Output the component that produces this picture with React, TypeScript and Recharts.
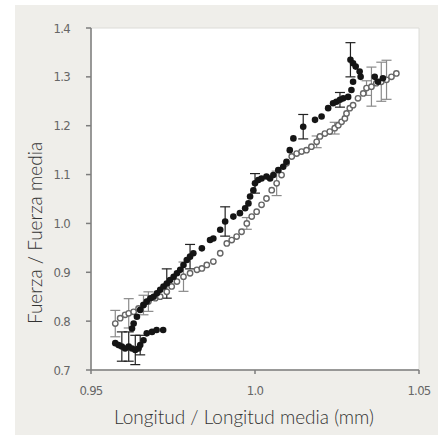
import React from "react";
import {
  ErrorBar,
  Label,
  ReferenceArea,
  Scatter,
  ScatterChart,
  XAxis,
  YAxis,
} from "recharts";

// [longitud, fuerza, error]  (error 0 = sin barra)
const filledPoints: [number, number, number][] = [
  [0.9574, 0.755, 0], [0.9584, 0.751, 0], [0.9594, 0.748, 0.03], [0.9604, 0.744, 0],
  [0.9615, 0.748, 0.03], [0.9625, 0.744, 0], [0.9635, 0.741, 0.03], [0.9645, 0.744, 0],
  [0.965, 0.751, 0.02], [0.966, 0.761, 0], [0.967, 0.775, 0], [0.9686, 0.778, 0],
  [0.97, 0.782, 0], [0.972, 0.782, 0],
  [0.9625, 0.785, 0], [0.963, 0.795, 0], [0.964, 0.809, 0], [0.965, 0.823, 0],
  [0.966, 0.833, 0], [0.967, 0.84, 0], [0.9681, 0.847, 0], [0.9691, 0.85, 0],
  [0.9701, 0.857, 0], [0.9711, 0.864, 0], [0.9721, 0.871, 0], [0.9731, 0.877, 0.03],
  [0.9741, 0.884, 0], [0.9752, 0.891, 0], [0.9762, 0.898, 0], [0.9772, 0.905, 0],
  [0.9782, 0.915, 0], [0.9792, 0.925, 0], [0.9802, 0.932, 0.025], [0.9812, 0.939, 0],
  [0.9838, 0.949, 0], [0.9863, 0.966, 0], [0.9873, 0.969, 0], [0.9894, 0.987, 0],
  [0.9909, 1.004, 0.03], [0.9934, 1.014, 0], [0.9954, 1.021, 0], [0.997, 1.031, 0],
  [0.998, 1.041, 0], [0.9985, 1.055, 0], [0.9995, 1.068, 0], [1.0, 1.082, 0.02],
  [1.001, 1.089, 0], [1.002, 1.092, 0], [1.0035, 1.096, 0], [1.0046, 1.092, 0],
  [1.0056, 1.099, 0], [1.0071, 1.109, 0], [1.0086, 1.116, 0], [1.0096, 1.126, 0],
  [1.0106, 1.15, 0], [1.0117, 1.174, 0], [1.0147, 1.198, 0.025], [1.0183, 1.212, 0],
  [1.0203, 1.219, 0], [1.0223, 1.236, 0], [1.0238, 1.246, 0], [1.0248, 1.249, 0],
  [1.0259, 1.253, 0.015], [1.0269, 1.256, 0], [1.0284, 1.259, 0], [1.0294, 1.273, 0],
  [1.0299, 1.29, 0], [1.0291, 1.335, 0.035], [1.0299, 1.328, 0], [1.0307, 1.321, 0],
  [1.0319, 1.311, 0], [1.0322, 1.3, 0], [1.0365, 1.3, 0], [1.0375, 1.29, 0],
  [1.039, 1.297, 0],
];

const openPoints: [number, number, number][] = [
  [0.9574, 0.795, 0.027], [0.9589, 0.806, 0], [0.9604, 0.813, 0], [0.9615, 0.816, 0.03],
  [0.963, 0.819, 0], [0.9645, 0.826, 0], [0.966, 0.833, 0.02], [0.9675, 0.84, 0.02],
  [0.9696, 0.847, 0], [0.9711, 0.85, 0], [0.9731, 0.86, 0], [0.9746, 0.871, 0],
  [0.9762, 0.881, 0], [0.9782, 0.891, 0.03], [0.9802, 0.898, 0], [0.9823, 0.905, 0],
  [0.9838, 0.908, 0], [0.9853, 0.915, 0], [0.9873, 0.922, 0], [0.9894, 0.939, 0],
  [0.9914, 0.959, 0], [0.9929, 0.966, 0], [0.9944, 0.973, 0], [0.9959, 0.983, 0],
  [0.9975, 1.0, 0.012], [0.999, 1.014, 0], [1.0005, 1.024, 0], [1.002, 1.038, 0],
  [1.0035, 1.051, 0], [1.0051, 1.068, 0], [1.0066, 1.082, 0.025], [1.0081, 1.099, 0],
  [1.0096, 1.123, 0], [1.0112, 1.137, 0], [1.0127, 1.143, 0], [1.0142, 1.147, 0],
  [1.0157, 1.15, 0], [1.0172, 1.157, 0], [1.0188, 1.167, 0.012], [1.0198, 1.178, 0],
  [1.0213, 1.184, 0], [1.0228, 1.188, 0], [1.0243, 1.195, 0.012], [1.0254, 1.201, 0],
  [1.0264, 1.208, 0], [1.0274, 1.215, 0], [1.0279, 1.225, 0], [1.0289, 1.236, 0],
  [1.0299, 1.242, 0], [1.0314, 1.256, 0], [1.033, 1.266, 0], [1.034, 1.277, 0.015],
  [1.0355, 1.28, 0.04], [1.037, 1.287, 0], [1.0385, 1.29, 0.04], [1.0401, 1.294, 0.04],
  [1.0416, 1.3, 0], [1.0431, 1.307, 0],
];

const xTicks = [0.95, 1.0, 1.05];
const xTickLabels = ["0.95", "1.0", "1.05"];
const yTicks = [0.7, 0.8, 0.9, 1.0, 1.1, 1.2, 1.3, 1.4];

const toRows = (pts: [number, number, number][]) =>
  pts.map(([x, y, err]) => ({ x, y, err }));

const tickFont = {
  fontSize: 13,
  fill: "#666",
  fontFamily: "'Liberation Sans Narrow', 'DejaVu Sans Condensed', sans-serif",
  letterSpacing: -0.7,
};

const titleFont = "Lato, 'Open Sans', sans-serif";

const FilledDot = (p: any) => <circle cx={p.cx} cy={p.cy} r={3.3} fill="#151515" />;
const OpenDot = (p: any) => (
  <circle cx={p.cx} cy={p.cy} r={2.7} fill="#fff" stroke="#666" strokeWidth={1.4} />
);

export default function App() {
  return (
    <div style={{ position: "fixed", left: 0, top: 0, width: 438, height: 435, background: "#fff" }}>
      <div style={{ position: "absolute", left: 15, top: 5, width: 423, height: 430, background: "#efeeea" }} />
      <div style={{ position: "absolute", left: 0, top: 0 }}>
        <ScatterChart width={438} height={435} margin={{ top: 28, right: 19, bottom: 0, left: 0 }}>
          <ReferenceArea x1={0.95} x2={1.05} y1={0.7} y2={1.4} fill="#fff" fillOpacity={1} stroke="#dcdcd8" />
          <XAxis
            type="number"
            dataKey="x"
            domain={[0.95, 1.05]}
            ticks={xTicks}
            tickFormatter={(v: number) => xTickLabels[xTicks.indexOf(v)] ?? String(v)}
            height={65}
            stroke="#7d7d7d"
            strokeWidth={1.5}
            tickSize={4}
            tickMargin={12}
            tick={tickFont}
            allowDataOverflow
          >
            <Label
              content={() => (
                <text x={244} y={424} textAnchor="middle" fontFamily={titleFont} fontWeight={300} fontSize={19} fill="#333">
                  Longitud / Longitud media (mm)
                </text>
              )}
            />
          </XAxis>
          <YAxis
            type="number"
            dataKey="y"
            domain={[0.7, 1.4]}
            ticks={yTicks}
            tickFormatter={(v: number) => v.toFixed(1)}
            width={91}
            stroke="#7d7d7d"
            strokeWidth={1.5}
            tickSize={5}
            tickMargin={16}
            tick={tickFont}
            allowDataOverflow
          >
            <Label
              content={() => (
                <text
                  x={0}
                  y={0}
                  transform="translate(42,233) rotate(-90)"
                  textAnchor="middle"
                  fontFamily={titleFont}
                  fontWeight={300}
                  fontSize={19}
                  fill="#333"
                >
                  Fuerza / Fuerza media
                </text>
              )}
            />
          </YAxis>
          <Scatter data={toRows(openPoints)} shape={OpenDot} isAnimationActive={false}>
            <ErrorBar dataKey="err" direction="y" width={5} stroke="#8a8a8a" strokeWidth={1.2} />
          </Scatter>
          <Scatter data={toRows(filledPoints)} shape={FilledDot} isAnimationActive={false}>
            <ErrorBar dataKey="err" direction="y" width={5} stroke="#222" strokeWidth={1.2} />
          </Scatter>
        </ScatterChart>
      </div>
    </div>
  );
}
